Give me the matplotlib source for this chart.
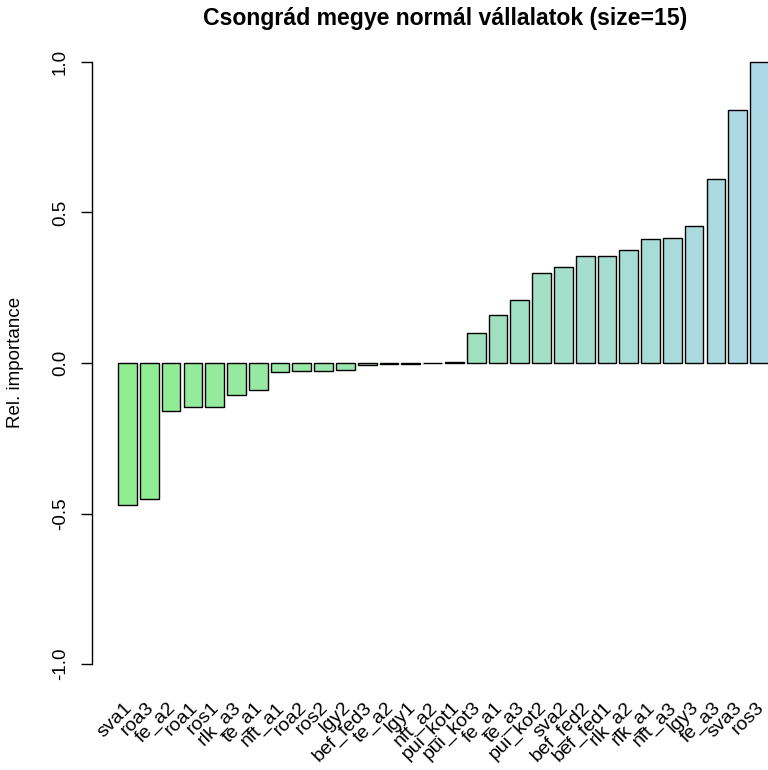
import matplotlib
matplotlib.use("Agg")
import matplotlib.pyplot as plt
import matplotlib.transforms as mtransforms
import numpy as np

plt.rcParams['font.family'] = ['Liberation Sans', 'DejaVu Sans']

# változók és relatív fontosság (leolvasva)
valtozok = ["sva1", "roa3", "fe_a2", "roa1", "ros1", "rlk_a3", "te_a1", "nft_a1",
            "roa2", "ros2", "lgy2", "bef_fed3", "te_a2", "lgy1", "nft_a2",
            "pui_kot1", "pui_kot3", "fe_a1", "te_a3", "pui_kot2", "sva2",
            "bef_fed2", "bef_fed1", "rlk_a2", "rlk_a1", "nft_a3", "lgy3",
            "fe_a3", "sva3", "ros3"]
ertekek = [-0.472, -0.453, -0.158, -0.147, -0.147, -0.106, -0.091, -0.031,
           -0.027, -0.027, -0.023, -0.007, -0.003, -0.003, -0.001,
           0.003, 0.101, 0.161, 0.209, 0.300, 0.320,
           0.355, 0.355, 0.375, 0.411, 0.415, 0.455,
           0.610, 0.841, 1.000]
y_tickek = [-1.0, -0.5, 0.0, 0.5, 1.0]
cim = "Csongrád megye normál vállalatok (size=15)"
y_felirat = "Rel. importance"


def main():
    n = len(valtozok)
    x = np.arange(n)

    # lightgreen -> lightblue szinatmenet
    kezdo = np.array([144, 238, 144]) / 255
    veg = np.array([173, 216, 230]) / 255
    t = np.linspace(0, 1, n)
    szinek = [tuple(kezdo + (veg - kezdo) * ti) for ti in t]

    fig = plt.figure(figsize=(7.68, 7.70), dpi=100)
    ax = fig.add_axes([92 / 768, 1 - 688.1 / 770, 1 - 92 / 768, 650.2 / 770])

    ax.bar(x, ertekek, width=0.86, color=szinek, edgecolor="black", linewidth=1.0)

    ax.set_xlim(-1.63, 29.39)
    ax.set_ylim(-1.08, 1.08)

    ax.spines['top'].set_visible(False)
    ax.spines['right'].set_visible(False)
    ax.spines['bottom'].set_visible(False)
    ax.spines['left'].set_bounds(-1, 1)
    ax.spines['left'].set_linewidth(1.0)

    ax.set_xticks([])
    ax.set_yticks(y_tickek)
    ax.set_yticklabels(["%.1f" % v for v in y_tickek], rotation=90, va='center')
    ax.tick_params(axis='y', length=7.7, width=1.0, pad=9, labelsize=13.5)

    trans = mtransforms.blended_transform_factory(ax.transData, ax.transAxes)
    for xi, nev in zip(x, valtozok):
        ax.text(xi + 0.1, -0.026, nev, rotation=45, rotation_mode='anchor',
                ha='right', va='center', fontsize=14, transform=trans,
                clip_on=False)

    fig.text(16 / 768, 1 - 362.5 / 770, y_felirat, rotation=90,
             ha='center', va='center', fontsize=13.5)
    fig.text(445 / 768, 1 - 18 / 770, cim, ha='center', va='center',
             fontsize=16.6, fontweight='bold')

    fig.savefig("out.png", dpi=100)


main()
